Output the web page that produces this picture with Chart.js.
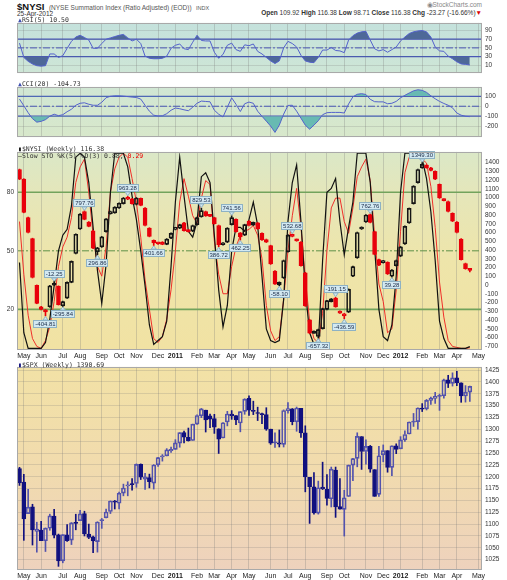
<!DOCTYPE html>
<html><head><meta charset="utf-8">
<script src="https://cdn.jsdelivr.net/npm/chart.js@4.4.1/dist/chart.umd.min.js"></script>
<style>
html,body{margin:0;padding:0;background:#fff;}
body{width:507px;height:580px;position:relative;overflow:hidden;font-family:"Liberation Sans",Arial,sans-serif;}
canvas{position:absolute;left:0;}
.t{position:absolute;white-space:nowrap;}
.mono{font-family:"DejaVu Sans Mono","Liberation Mono",monospace;font-size:6.5px;line-height:7px;color:#333;}
</style></head><body>
<div class="t" style="left:17px;top:0px;height:10px;line-height:10px;"><span style="font-weight:bold;font-size:9.5px;color:#111">$NYSI</span> <span style="font-size:6.5px;color:#555">(NYSE Summation Index (Ratio Adjusted) (EOD))</span> <span style="font-size:5.5px;color:#555">INDX</span></div>
<div class="t" style="right:25px;top:1px;font-size:6.5px;line-height:7px;color:#888">&#9673;StockCharts.com</div>
<div class="t" style="left:17px;top:10px;font-size:6.5px;line-height:7px;color:#333">25-Apr-2012</div>
<div class="t" style="right:25px;top:9px;font-size:6.5px;line-height:8px;color:#333"><b>Open</b> 109.92 <b>High</b> 116.38 <b>Low</b> 98.71 <b>Close</b> 116.38 <b>Chg</b> -23.27 (-16.66%)<span style="color:#d00">&#9660;</span></div>

<canvas id="cRsi" width="507" height="64" style="top:16px"></canvas>
<canvas id="cCci" width="507" height="64" style="top:80px"></canvas>
<canvas id="cMain" width="507" height="215" style="top:145px"></canvas>
<canvas id="cSpx" width="507" height="220" style="top:360px"></canvas>

<div class="t mono" style="left:18px;top:17px"><span style="color:#4050b0">&#9650;</span>RSI(5) 10.50</div>
<div class="t mono" style="left:18px;top:81px"><span style="color:#4050b0">&#9650;</span>CCI(20) -104.73</div>
<div class="t mono" style="left:18px;top:146px"><span style="color:#111">&#9646;</span>$NYSI (Weekly) 116.38</div>
<div class="t mono" style="left:18px;top:153px"><span style="color:#111">&#8212;</span>Slow STO %K(5) %D(3) 0.88, <span style="color:#e00">0.29</span></div>
<div class="t mono" style="left:18px;top:362px"><span style="color:#10107f">&#9646;</span>$SPX (Weekly) 1390.69</div>

<script>
// ---------- DATA (weekly, index 0 = week of 26-Apr-2010 ... 104 = week of 23-Apr-2012) ----------
const monthIdx = [1,5,10,14,19,23,27,32,36,41,45,49,53,58,62,66,71,75,80,84,88,93,97,101,106];
const monthLbl = ['May','Jun','Jul','Aug','Sep','Oct','Nov','Dec','2011','Feb','Mar','Apr','May','Jun','Jul','Aug','Sep','Oct','Nov','Dec','2012','Feb','Mar','Apr','May'];

const rsiTicks = [10,30,50,70,90];
const cciTicks = [100,0,-100,-200];
const stoTicks = [20,50,80];
const nyTicks = [-700,-600,-500,-400,-300,-200,-100,0,100,200,300,400,500,600,700,800,900,1000,1100,1200,1300,1400];
const spxTicks = [1025,1050,1075,1100,1125,1150,1175,1200,1225,1250,1275,1300,1325,1350,1375,1400,1425];

const rsi = [61,28,19,13,9,8,9,36,36,28, 32,49,65,75,79,74,68,49,49,60, 70,73,76,79,81,73,66,70,60,31,
 26,25,25,26,31,49,56,59,48,46, 63,79,67,66,66,40,26,35,56,61, 46,42,57,55,59,42,36,28,20,14,
 20,50,65,60,52,33,20,17,16,28, 45,45,51,44,43,39,68,78,84,87, 88,68,48,43,46,40,46,52,66,75,
 83,87,89,90,87,75,52,43,42,31, 25,18,13,12,10.5];

const cci = [72,5,-65,-125,-160,-152,-135,-100,-80,-95, -85,-55,-30,10,30,35,20,10,10,40,
 86,100,105,105,102,97,92,88,72,10, -50,-90,-98,-96,-75,-40,-18,-25,-36,-45,
 -10,30,52,48,45,-40,-80,-108,-10,85, 20,-53,25,42,30,-50,-101,-150,-200,-263,
 -190,-80,8,10,-50,-120,-190,-231,-190,-146, -85,-65,-62,-62,-62,-68,23,95,120,127,
 118,70,46,44,44,25,30,49,85,110, 133,155,166,160,140,105,75,49,28,10,
 -16,-68,-90,-101,-104.73];

const stoK = [44,8,0,0,0,0,3,15,32,50, 58,61,73,98,100,98,85,62,40,23, 43,80,100,100,100,93,78,66,50,32,
 12,2,4,6,14,42,75,98,78,60, 57,65,88,90,85,58,30,11,22,50, 62,62,60,66,75,63,37,10,4,3,
 4,25,65,85,94,65,30,8,2,2, 45,80,82,87,65,48,62,75,100,100, 100,85,52,20,6,4,12,37,80,100,
 100,100,99,97,87,70,45,14,5,0, 0,0,0,0,0.88];

const stoD = [65,38,17,5,1,0,4,11,24,42, 52,57,67,85,93,97,80,58,42,37, 52,80,92,98,100,98,87,75,57,35,
 20,5,3,6,15,30,50,75,87,78, 68,64,77,86,84,55,38,28,28,42, 52,58,60,61,63,58,46,22,9,4,
 6,25,50,68,82,62,36,14,5,3, 18,50,72,77,77,65,59,72,88,93, 97,86,58,33,24,8,10,30,60,90,
 98,100,100,97,95,83,62,34,16,4, 1,0.5,0,0,0.29];

const nyOpen = [1270,1160,720,480,-55,-300,-335,-300,-30,-65, -290,-200,-20,310,590,790,670,570,330,385,
 560,765,775,830,880,950,935,870,940,830, 600,460,425,440,415,485,585,600,660,575,
 565,640,730,790,745,720,630,410,440,640, 700,545,520,680,635,660,540,470,400,110,
 -50,30,330,528,470,440,90,-450,-580,-640, -550,-330,-240,-200,-350,-380,-360,50,260,590,
 670,755,560,240,205,210,50,170,280,420, 660,880,1120,1290,1320,1290,1250,1100,930,905,
 770,670,475,195,125];
const nyHigh = [1275,1165,725,485,-50,-295,-330,-55,-12.25,-60, -235,-15,225,535,765,797.76,675,575,380,505,
 710,795,845,890,950,963.28,940,950,945,835, 605,465,430,445,480,545,610,645,665,580,
 635,725,829.53,795,750,725,635,435,605,741.56, 705,550,645,685,670,665,545,475,405,115,
 -15,235,525,532.68,475,445,95,-445,-575,-555, -315,-225,-205,-191.15,-345,-375,-95,165,555,615,
 755,762.76,565,245,230,215,125,235,390,625, 830,1085,1275,1349.30,1325,1295,1255,1105,935,910,
 775,675,480,200,126];
const nyLow = [1155,775,545,30,-265,-335,-404.81,-305,-55,-280, -295.84,-205,-25,305,585,695,615,365,296.86,380,
 555,760,770,825,875,925,875,865,855,625, 500,401.66,415,410,410,480,580,595,565,555,
 560,635,725,735,730,645,386.72,405,435,635, 555,462.25,515,625,630,585,460,435,185,-45,
 -58.10,25,325,500,450,165,-295,-605,-600,-657.32, -555,-335,-245,-305,-375,-436.59,-365,45,255,585,
 665,660,295,170,200,70,39.28,165,275,415, 655,875,1115,1285,1285,1255,1155,940,910,785,
 675,545,235,130,98.71];
const nyClose = [1160,780,550,35,-260,-330,-345,-60,-50,-275, -240,-20,220,530,760,700,620,370,375,500,
 705,790,840,885,945,930,880,945,860,630, 505,430,420,415,475,540,605,640,570,560,
 630,720,800,740,735,650,410,430,600,720, 560,500,640,630,665,590,465,440,190,-40,
 -20,230,520,505,455,170,-290,-600,-595,-560, -320,-230,-210,-300,-370,-400,-100,160,550,610,
 750,665,300,175,225,75,120,230,385,620, 825,1080,1270,1330,1290,1260,1160,945,915,790,
 680,550,240,135,116.38];

const nyMarkIdx = [6,8,10,15,18,25,31,42,46,49,51,60,63,69,73,75,81,86,93];
const nyMarkVal = [-404.81,-12.25,-295.84,797.76,296.86,963.28,401.66,829.53,386.72,741.56,462.25,-58.10,532.68,-657.32,-191.15,-436.59,762.76,39.28,1349.30];
const nyMarkSide = ['L','H','L','H','L','H','L','H','L','H','L','L','H','L','H','L','H','L','H'];

const spxOpen = [1217.0,1188.6,1122.3,1136.5,1084.8,1087.3,1064.9,1091.2,1117.1,1077.5,
 1022.6,1077.2,1066.3,1102.9,1107.5,1122.0,1079.0,1073.0,1063.0,1107.5,
 1113.4,1126.6,1148.6,1144.0,1165.3,1180.5,1184.7,1185.7,1226.0,1194.8,
 1198.1,1186.6,1225.0,1241.8,1243.9,1254.7,1257.6,1270.8,1293.2,1283.3,
 1276.5,1311.0,1328.7,1340.4,1328.6,1322.7,1301.2,1281.7,1315.5,1332.2,
 1329.0,1313.4,1337.9,1365.2,1340.2,1334.4,1333.1,1331.1,1300.3,1271.3,
 1271.5,1268.4,1339.6,1343.3,1315.9,1344.3,1292.6,1198.5,1178.9,1123.2,
 1177.9,1173.6,1153.5,1214.0,1136.9,1131.2,1158.2,1224.5,1238.7,1284.9,
 1253.2,1263.9,1215.0,1162.8,1246.0,1255.1,1219.7,1265.0,1258.9,1277.8,
 1290.2,1315.3,1316.2,1344.3,1343.1,1361.2,1365.2,1369.6,1370.8,1404.2,
 1397.1,1408.5,1398.1,1370.3,1378.5];
const spxHigh = [1219.8,1205.1,1173.6,1141.9,1104.0,1105.7,1092.0,1121.0,1131.2,1079.0,
 1078.0,1099.1,1103.3,1120.9,1129.2,1127.2,1100.1,1075.0,1105.0,1112.0,
 1131.5,1148.9,1150.0,1167.7,1184.4,1189.4,1196.1,1227.1,1227.1,1207.4,
 1205.5,1225.6,1241.0,1246.7,1259.3,1262.6,1278.2,1293.2,1296.1,1302.7,
 1311.0,1330.8,1344.1,1340.4,1332.3,1331.6,1301.2,1314.2,1337.9,1339.5,
 1329.0,1337.5,1364.6,1370.6,1359.4,1346.8,1334.5,1345.6,1300.3,1292.5,
 1298.6,1341.0,1356.5,1343.8,1347.0,1344.3,1307.4,1198.5,1208.5,1190.7,
 1230.7,1204.7,1220.4,1220.4,1195.9,1171.4,1224.6,1239.0,1292.7,1284.9,
 1277.6,1266.0,1215.0,1264.0,1267.1,1255.1,1265.4,1269.4,1284.6,1296.8,
 1315.5,1333.5,1345.3,1354.3,1363.0,1368.0,1378.0,1374.2,1405.9,1414.0,
 1419.2,1422.4,1398.1,1392.2,1391.1];
const spxLow = [1181.6,1065.8,1122.3,1055.9,1040.8,1064.9,1042.2,1087.0,1071.0,1010.9,
 1018.4,1063.3,1056.9,1088.0,1107.5,1075.0,1069.4,1039.7,1040.9,1091.0,
 1113.0,1122.3,1131.9,1131.9,1159.7,1159.7,1171.7,1177.7,1194.1,1173.0,
 1176.4,1174.0,1221.8,1232.9,1243.9,1251.5,1257.6,1262.2,1271.3,1275.1,
 1276.5,1310.1,1324.6,1294.3,1303.4,1291.4,1249.1,1281.6,1307.2,1321.0,
 1309.7,1294.7,1331.7,1329.2,1331.0,1318.5,1311.8,1297.9,1268.2,1261.9,
 1262.7,1262.7,1333.9,1309.5,1295.9,1282.9,1168.1,1101.5,1121.1,1121.1,
 1172.9,1140.1,1136.2,1114.2,1131.4,1074.8,1158.2,1191.5,1220.9,1215.4,
 1226.6,1209.4,1158.7,1158.7,1231.5,1209.5,1202.4,1248.6,1258.9,1274.3,
 1290.2,1306.1,1300.5,1337.5,1340.8,1352.3,1354.7,1340.0,1365.5,1388.1,
 1391.2,1392.0,1357.0,1357.4,1358.8];
const spxClose = [1186.7,1110.9,1135.7,1087.7,1089.4,1064.9,1091.6,1117.5,1076.8,1022.6,
 1078.0,1064.9,1102.7,1101.6,1121.6,1079.3,1071.7,1064.6,1104.5,1109.6,
 1125.6,1148.7,1146.2,1165.2,1176.2,1183.1,1183.3,1225.9,1199.2,1199.7,
 1189.4,1224.7,1240.4,1243.9,1256.8,1257.6,1271.5,1293.2,1283.4,1276.3,
 1310.9,1329.2,1343.0,1319.9,1321.2,1304.3,1279.2,1313.8,1332.4,1328.2,
 1319.7,1337.4,1363.6,1340.2,1337.8,1333.3,1331.1,1300.2,1271.0,1271.5,
 1268.5,1339.7,1343.8,1316.1,1345.0,1292.3,1199.4,1178.8,1123.5,1176.8,
 1174.0,1154.2,1216.0,1136.4,1131.4,1155.5,1224.6,1238.3,1285.1,1253.2,
 1263.9,1215.7,1158.7,1244.3,1255.2,1219.7,1265.3,1257.6,1277.8,1289.1,
 1315.4,1316.3,1344.9,1342.6,1361.2,1365.7,1369.6,1370.9,1404.2,1397.1,
 1408.5,1398.1,1370.3,1378.5,1390.7];

// ---------- RENDERING ----------
const F = '"Liberation Sans", Arial, sans-serif';
const X_MIN = -0.577, X_MAX = 106.81;
const pts = arr => arr.map((v,i)=>({x:i,y:v}));
const hline = v => [{x:X_MIN,y:v},{x:X_MAX,y:v}];

const gStops = [[16,'#c3e1dd'],[80,'#cfe6d5'],[145,'#d9e8c9'],[200,'#e6e6b8'],[260,'#eee5aa'],[350,'#f1e2a3'],[360,'#f2e2a5'],[470,'#f1dbae'],[570,'#eed2bd']];
const bgPlugin = {
  id:'bg',
  beforeDraw(chart, args, opts){
    const {ctx, chartArea:a} = chart; const top = opts.pageTop;
    const g = ctx.createLinearGradient(0, 16-top, 0, 570-top);
    gStops.forEach(s=>g.addColorStop((s[0]-16)/554, s[1]));
    ctx.save(); ctx.fillStyle=g; ctx.fillRect(a.left,a.top,a.right-a.left,a.bottom-a.top); ctx.restore();
  },
  afterDraw(chart){
    const {ctx, chartArea:a} = chart;
    ctx.save(); ctx.strokeStyle='#a9a9a9'; ctx.lineWidth=1;
    ctx.strokeRect(Math.round(a.left)+0.5, Math.round(a.top)+0.5, Math.round(a.right-a.left)-1, Math.round(a.bottom-a.top)-1);
    ctx.restore();
  }
};
Chart.register(bgPlugin);

function xAxis(show, h){
  return {type:'linear', min:X_MIN, max:X_MAX, offset:false, position:'bottom',
    afterBuildTicks: s => { s.ticks = monthIdx.map(v=>({value:v})); },
    afterFit: s => { s.height = h; },
    ticks:{display:show, autoSkip:false, maxRotation:0, minRotation:0, padding:2, color:'#222',
      font: c => ({size:7, family:F, weight: (monthLbl[c.index]||'').length===4 ? 'bold':'normal'}),
      callback:(v,i)=>monthLbl[i]},
    grid:{color:'rgba(120,120,120,0.28)', drawTicks:false, lineWidth:1, offset:false},
    border:{display:false}};
}
function yAxis(pos, min, max, ticks, grid, width, offset){
  return {type:'linear', position:pos, min, max,
    afterBuildTicks: s => { s.ticks = ticks.map(v=>({value:v})); },
    afterFit: s => { s.width = width; },
    ticks:{font:{size:6.5, family:F}, color:'#333', padding:3, autoSkip:false, labelOffset:offset||0, callback:v=>String(v)},
    grid:{display:grid, color:'rgba(120,120,120,0.22)', drawTicks:false},
    border:{display:false}};
}
function baseOpts(pageTop, padLeft, scales){
  return {responsive:false, animation:false, devicePixelRatio:1, events:[],
    layout:{padding:{left:padLeft, right:0, top:0, bottom:0}},
    plugins:{legend:{display:false}, tooltip:{enabled:false}, bg:{pageTop}},
    scales};
}
const refLine = (v, color, w, dash, yID) => ({type:'line', data:hline(v), borderColor:color, borderWidth:w, borderDash:dash||[], pointRadius:0, fill:false, yAxisID:yID||'y', order:5});

// RSI
const RSI_FILL = 'rgb(78,104,152)';
new Chart(document.getElementById('cRsi'), {
  type:'line',
  data:{datasets:[
    {data:pts(rsi), borderColor:'#5462cc', borderWidth:1, pointRadius:0, tension:0, fill:{target:{value:70}, above:RSI_FILL, below:'rgba(0,0,0,0)'}, order:0},
    {data:pts(rsi), borderColor:'rgba(0,0,0,0)', borderWidth:0, pointRadius:0, tension:0, fill:{target:{value:30}, above:'rgba(0,0,0,0)', below:RSI_FILL}, order:1},
    refLine(70,'#4a57b6',1.2), refLine(30,'#4a57b6',1.2), refLine(50,'#4a57b6',1,[7,2,2,2])
  ]},
  options: baseOpts(16, 17, {x:xAxis(false,0), y:yAxis('right',-8.05,107.5,rsiTicks,true,25)})
});

// CCI
const CCI_FILL = 'rgb(104,186,178)';
new Chart(document.getElementById('cCci'), {
  type:'line',
  data:{datasets:[
    {data:pts(cci), borderColor:'#5462cc', borderWidth:1, pointRadius:0, tension:0, fill:{target:{value:100}, above:CCI_FILL, below:'rgba(0,0,0,0)'}, order:0},
    {data:pts(cci), borderColor:'rgba(0,0,0,0)', borderWidth:0, pointRadius:0, tension:0, fill:{target:{value:-100}, above:'rgba(0,0,0,0)', below:CCI_FILL}, order:1},
    refLine(100,'#4a57b6',1.2), refLine(-100,'#4a57b6',1.2), refLine(0,'#4a57b6',1,[7,2,2,2])
  ]},
  options: baseOpts(80, 17, {x:xAxis(false,0), y:yAxis('right',-310.5,194.7,cciTicks,true,25)})
});

// candle helpers
function candleSets(O,H,L,C, fillC, lineC, yID, minLen){
  const body = O.map((o,i)=>({x:i, y:[Math.min(o,C[i]), Math.max(o,C[i])]}));
  const up = O.map((o,i)=>({x:i, y:[Math.max(o,C[i]), H[i]]}));
  const dn = O.map((o,i)=>({x:i, y:[L[i], Math.min(o,C[i])]}));
  const common = {type:'bar', grouped:false, yAxisID:yID, borderSkipped:false};
  return [
    Object.assign({}, common, {data:body, backgroundColor:fillC, borderColor:lineC, borderWidth:1, barThickness:4, minBarLength:minLen, order:0}),
    Object.assign({}, common, {data:up, backgroundColor:lineC, borderWidth:0, barThickness:1, order:1}),
    Object.assign({}, common, {data:dn, backgroundColor:lineC, borderWidth:0, barThickness:1, order:1})
  ];
}

// NYSI main
const nyLine = nyClose.map((c,i)=> (i>0 && c>=nyClose[i-1]) ? '#151515' : '#e8000b');
const nyFillC = nyClose.map((c,i)=> c < nyOpen[i] ? nyLine[i] : 'rgba(0,0,0,0)');
const markPlugin = {
  id:'marks',
  afterDatasetsDraw(chart){
    const {ctx} = chart; const xs = chart.scales.x, ys = chart.scales.yN;
    ctx.save(); ctx.font = '6px ' + F; ctx.textAlign='center'; ctx.textBaseline='middle';
    nyMarkIdx.forEach((idx,k)=>{
      const v = nyMarkVal[k]; const px = xs.getPixelForValue(idx); const py = ys.getPixelForValue(v);
      const txt = v.toFixed(2); const w = Math.round(ctx.measureText(txt).width) + 4; const h = 8;
      const high = nyMarkSide[k]==='H';
      const by = Math.round(high ? py - 4 - h : py + 4);
      const bx = Math.round(px - w/2);
      ctx.fillStyle='#d3e9f2'; ctx.strokeStyle='#8eb2c4'; ctx.lineWidth=1;
      ctx.beginPath();
      if (high){ ctx.moveTo(px-2.5, by+h); ctx.lineTo(px+2.5, by+h); ctx.lineTo(px, py-0.5); }
      else { ctx.moveTo(px-2.5, by); ctx.lineTo(px+2.5, by); ctx.lineTo(px, py+0.5); }
      ctx.closePath(); ctx.fill(); ctx.stroke();
      ctx.fillRect(bx, by, w, h); ctx.strokeRect(bx+0.5, by+0.5, w-1, h-1);
      ctx.fillStyle='#1b2b48'; ctx.fillText(txt, px, by + h/2 + 0.5);
    });
    ctx.restore();
  }
};
new Chart(document.getElementById('cMain'), {
  type:'line',
  data:{datasets:[
    ...candleSets(nyOpen,nyHigh,nyLow,nyClose,nyFillC,nyLine,'yN',2),
    {type:'line', data:pts(stoK), yAxisID:'yS', borderColor:'#111', borderWidth:1.2, pointRadius:0, tension:0, fill:false, order:2},
    {type:'line', data:pts(stoD), yAxisID:'yS', borderColor:'#f0302a', borderWidth:1, pointRadius:0, tension:0, fill:false, order:3},
    refLine(80,'#72a35c',1.6,null,'yS'), refLine(20,'#72a35c',1.6,null,'yS'), refLine(50,'#5f9048',1,[7,2,2,2],'yS')
  ]},
  options: baseOpts(145, 0, {
    x:xAxis(true,10),
    yS:yAxis('left',-0.84,100.7,stoTicks,false,17),
    yN:yAxis('right',-793.9,1471.8,nyTicks,false,25,4.5)
  }),
  plugins:[markPlugin]
});

// SPX
const spxDown = spxClose.map((c,i)=> c < spxOpen[i]);
const spxLine = spxDown.map(d => d ? '#10107f' : '#5252ad');
const spxFillC = spxDown.map(d => d ? '#10107f' : 'rgba(0,0,0,0)');
new Chart(document.getElementById('cSpx'), {
  type:'line',
  data:{datasets: candleSets(spxOpen,spxHigh,spxLow,spxClose,spxFillC,spxLine,'y',1)},
  options: baseOpts(360, 17, {x:xAxis(true,10), y:yAxis('right',1003.2,1431.7,spxTicks,true,25)})
});
</script>
</body></html>
